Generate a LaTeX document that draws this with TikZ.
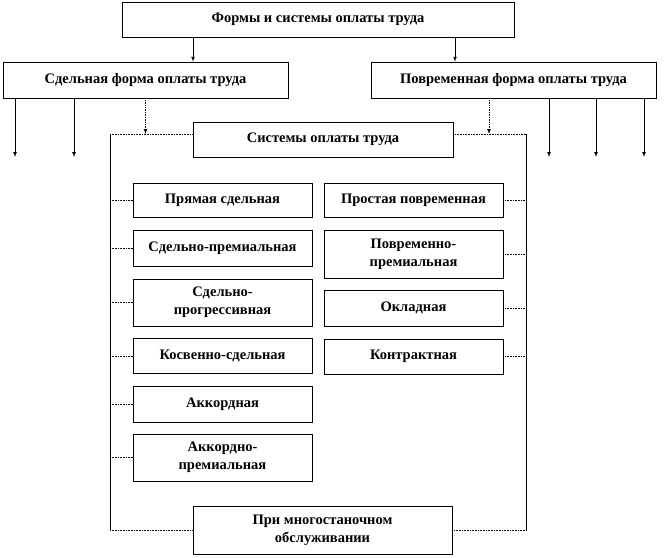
\documentclass[tikz,border=0pt]{standalone}
\usepackage{fontspec}
\setmainfont{Liberation Serif}
\usetikzlibrary{arrows,calc}
\tikzstyle{formbox}=[draw, line width=0.6pt, align=center, inner sep=1pt, font=\bfseries\fontsize{14.5}{18}\selectfont]
\tikzstyle{sysbox}=[formbox, minimum width=179pt]
\tikzstyle{link}=[line width=0.6pt, densely dotted]
\tikzstyle{arrow}=[line width=0.7pt, -latex]

\begin{document}
\begin{tikzpicture}[x=1pt,y=-1pt]
		\useasboundingbox (0,0) rectangle (671,557);
		\node[formbox, minimum width=392pt, minimum height=35pt] (forms) at (318,19.5) {Формы и системы оплаты труда};
		\node[formbox, minimum width=285pt, minimum height=36pt] (piece) at (145.5,80) {Сдельная форма оплаты труда};
		\node[formbox, minimum width=285pt, minimum height=36pt] (time) at (513.5,80) {Повременная форма оплаты труда};
		\node[formbox, minimum width=260pt, minimum height=35pt] (systems) at (323,139.5) {Системы оплаты труда};
		\node[formbox, minimum width=259pt, minimum height=48pt] (multi) at (322.5,530) {При многостаночном\\обслуживании};
		% piece systems
		\node[sysbox, minimum height=34pt] (p1) at (222.5,200) {Прямая сдельная};
		\node[sysbox, minimum height=36pt] (p2) at (222.5,248) {Сдельно-премиальная};
		\node[sysbox, minimum height=47pt] (p3) at (222.5,302.5) {Сдельно-\\прогрессивная};
		\node[sysbox, minimum height=35pt] (p4) at (222.5,356) {Косвенно-сдельная};
		\node[sysbox, minimum height=36pt] (p5) at (222.5,404) {Аккордная};
		\node[sysbox, minimum height=47pt] (p6) at (222.5,457.5) {Аккордно-\\премиальная};
		% time systems
		\node[sysbox, minimum height=34pt] (t1) at (413.5,200) {Простая повременная};
		\node[sysbox, minimum height=48pt] (t2) at (413.5,254) {Повременно-\\премиальная};
		\node[sysbox, minimum height=36pt] (t3) at (413.5,308) {Окладная};
		\node[sysbox, minimum height=35pt] (t4) at (413.5,356.5) {Контрактная};
		% frame corners
		\coordinate (ftl) at (110,134);
		\coordinate (ftr) at (526,134);
		\coordinate (fbl) at (110,530);
		\coordinate (fbr) at (526,530);
		% free ends
		\coordinate (e1) at (15,157);
		\coordinate (e2) at (74,157);
		\coordinate (e3) at (549,157);
		\coordinate (e4) at (596,157);
		\coordinate (e5) at (644,157);
		\draw[arrow] ([xshift=-125pt]forms.south) -- ([xshift=-125pt]forms.south |- piece.north);
		\draw[arrow] ([xshift=137pt]forms.south) -- ([xshift=137pt]forms.south |- time.north);
		\draw[arrow] (piece.south -| e1) -- (e1);
		\draw[arrow] (piece.south -| e2) -- (e2);
		\draw[arrow] (time.south -| e3) -- (e3);
		\draw[arrow] (time.south -| e4) -- (e4);
		\draw[arrow] (time.south -| e5) -- (e5);
		\draw[arrow, densely dotted] (piece.south) -- (piece.south |- ftl);
		\draw[arrow, densely dotted] ([xshift=-24.5pt]time.south) -- ([xshift=-24.5pt]time.south |- ftl);
		% frame
		\draw[line width=0.6pt] (ftl) -- (fbl);
		\draw[line width=0.6pt] (ftr) -- (fbr);
		\draw[link] (ftl) -- (ftl -| systems.west);
		\draw[link] (ftl -| systems.east) -- (ftr);
		\draw[link] (fbl) -- (multi.west);
		\draw[link] (multi.east) -- (fbr);
		\foreach \n in {p1,p2,p3,p4,p5,p6}
			\draw[link] (\n.west -| ftl) -- (\n.west);
		\foreach \n in {t1,t2,t3,t4}
			\draw[link] (\n.east) -- (\n.east -| ftr);
	\end{tikzpicture}
\end{document}
